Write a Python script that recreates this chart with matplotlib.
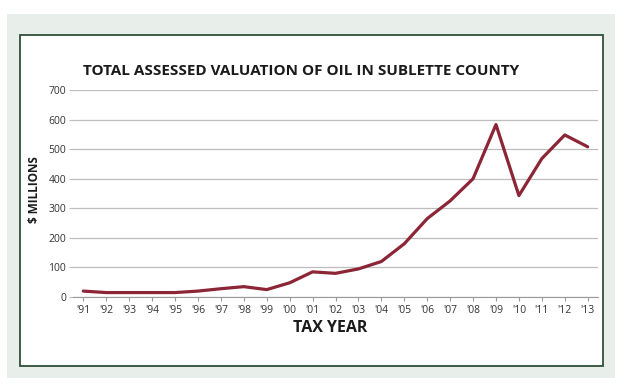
import matplotlib.pyplot as plt
from matplotlib.patches import Rectangle

# =====================================
#          数据
# =====================================
years = ["'91", "'92", "'93", "'94", "'95", "'96", "'97", "'98", "'99", "'00", "'01", "'02",
         "'03", "'04", "'05", "'06", "'07", "'08", "'09", "'10", "'11", "'12", "'13"]
oil_value = [20, 15, 15, 15, 15, 20, 28, 35, 25, 48, 85, 80,
             95, 120, 180, 265, 325, 400, 583, 343, 468, 548, 508]
y_ticks = [0, 100, 200, 300, 400, 500, 600, 700]

plt.rcParams['font.family'] = ['Open Sans', 'DejaVu Sans']

W, H = 625, 390
fig = plt.figure(figsize=(W / 100, H / 100), dpi=100)
fig.patch.set_facecolor('white')

# 背景面板 + 内框
fig.patches.append(Rectangle((7 / W, 1 - 378 / H), 608 / W, 364 / H, transform=fig.transFigure,
                             facecolor='#e8eee9', edgecolor='none', zorder=0))
fig.patches.append(Rectangle((20 / W, 1 - 366 / H), 583 / W, 331 / H, transform=fig.transFigure,
                             facecolor='white', edgecolor='#2f4f3a', linewidth=1.3, zorder=1))

# 坐标区
ax = fig.add_axes([73 / W, 1 - 297 / H, (598 - 73) / W, (297 - 90) / H])
ax.set_zorder(5)
ax.set_facecolor('none')
x = list(range(len(years)))
ax.plot(x, oil_value, color='#8c2535', linewidth=2.3, solid_joinstyle='round',
        solid_capstyle='round', zorder=3)

ax.set_ylim(0, 700)
ax.set_xlim(-0.45, len(years) - 0.55)
ax.set_yticks(y_ticks)
ax.set_xticks(x)
ax.set_xticklabels(years)
ax.grid(axis='y', color='#bdbdbd', linewidth=0.9)
ax.set_axisbelow(True)
for s in ['top', 'right', 'left']:
    ax.spines[s].set_visible(False)
ax.spines['bottom'].set_color('#9a9a9a')
ax.tick_params(axis='y', length=3, color='#bdbdbd', labelsize=7.5, labelcolor='#333333', pad=2)
ax.tick_params(axis='x', length=3, color='#9a9a9a', labelsize=7.5, labelcolor='#333333', pad=3)

fig.text(301 / W, 1 - 71 / H, 'TOTAL ASSESSED VALUATION OF OIL IN SUBLETTE COUNTY',
         ha='center', va='center', fontsize=11, fontweight='bold', color='#1a1a1a', zorder=6)
fig.text(330 / W, 1 - 328 / H, 'TAX YEAR', ha='center', va='center',
         fontsize=11.5, fontweight='bold', color='#1a1a1a', zorder=6)
fig.text(35 / W, 1 - 190 / H, '$ MILLIONS', ha='center', va='center', rotation=90,
         fontsize=8.5, fontweight='bold', color='#1a1a1a', zorder=6)

plt.savefig('out.png', dpi=100)
